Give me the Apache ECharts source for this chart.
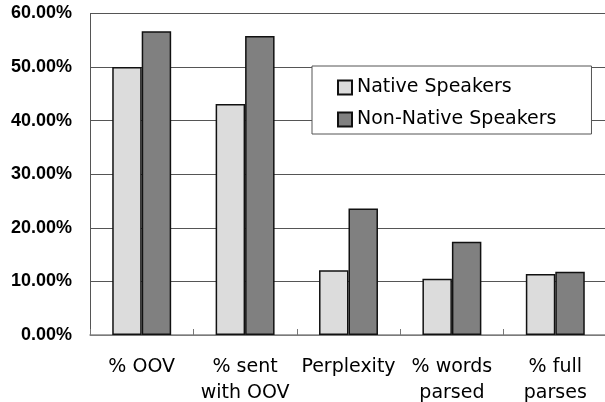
<!DOCTYPE html>
<html><head><meta charset="utf-8">
<script src="https://cdn.jsdelivr.net/npm/echarts@6/dist/echarts.min.js"></script>
<style>html,body{margin:0;padding:0;background:#fff}#c{width:605px;height:402px}</style>
</head><body><div id="c"></div>
<script>
const categories = ['% OOV', '% sent\nwith OOV', 'Perplexity', '% words\nparsed', '% full\nparses'];
const nativeValues = [50.0, 43.1, 12.1, 10.5, 11.4];
const nonNativeValues = [56.7, 55.8, 23.6, 17.4, 11.8];
const seriesNames = ['Native Speakers', 'Non-Native Speakers'];

const chart = echarts.init(document.getElementById('c'), null, {renderer: 'canvas'});
const yFont = '"Liberation Sans", Arial, sans-serif';
const tFont = '"DejaVu Sans", sans-serif';
chart.setOption({
  animation: false,
  backgroundColor: '#fff',
  grid: {left: 90, right: -2, top: 13.5, bottom: 67, containLabel: false, outerBoundsMode: 'none'},
  legend: {
    orient: 'vertical', left: 312, top: 66,
    backgroundColor: '#fff', borderColor: '#555', borderWidth: 1,
    padding: [12, 35, 5, 25], itemGap: 13,
    itemWidth: 14, itemHeight: 14, icon: 'rect',
    textStyle: {fontFamily: tFont, fontSize: 19, color: '#000', lineHeight: 19},
    data: seriesNames
  },
  xAxis: {
    type: 'category', data: categories,
    axisLine: {lineStyle: {color: '#888', width: 1.5}},
    axisTick: {show: true, inside: true, length: 6, lineStyle: {color: '#777'}},
    axisLabel: {fontFamily: tFont, fontSize: 19, color: '#000', margin: 19, lineHeight: 26, interval: 0}
  },
  yAxis: {
    type: 'value', min: 0, max: 60, interval: 10,
    axisLine: {show: true, lineStyle: {color: '#555', width: 1}},
    axisTick: {show: false},
    splitLine: {lineStyle: {color: '#555', width: 1}},
    axisLabel: {fontFamily: yFont, fontSize: 18, fontWeight: 'bold', color: '#000', margin: 18,
      formatter: v => v.toFixed(2) + '%'}
  },
  series: [
    {name: seriesNames[0], type: 'bar', data: nativeValues, barGap: '0%', barCategoryGap: '43%',
     itemStyle: {color: '#dcdcdc', borderColor: '#111', borderWidth: 1.5}},
    {name: seriesNames[1], type: 'bar', data: nonNativeValues, barGap: '0%', barCategoryGap: '43%',
     itemStyle: {color: '#808080', borderColor: '#111', borderWidth: 1.5}}
  ]
});
</script></body></html>
